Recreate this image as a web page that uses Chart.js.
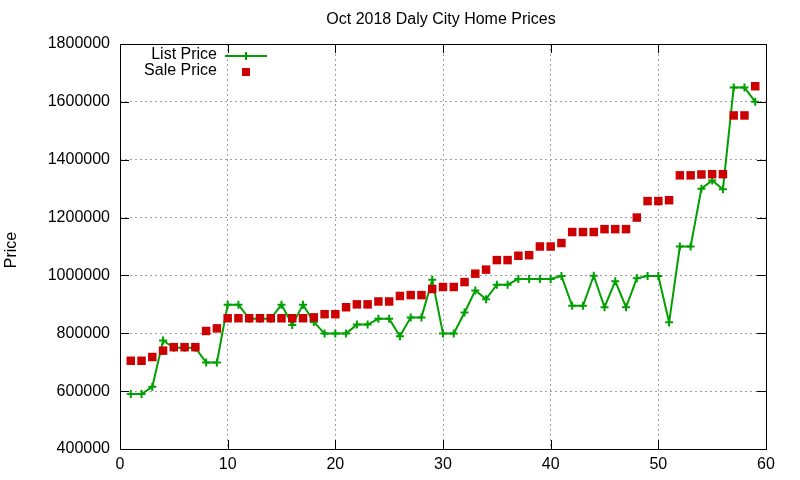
<!DOCTYPE html>
<html>
<head>
<meta charset="utf-8">
<script src="https://cdn.jsdelivr.net/npm/chart.js@4/dist/chart.umd.min.js"></script>
<style>
  html, body { margin: 0; padding: 0; background: #fff; }
  #wrap { width: 800px; height: 480px; }
</style>
</head>
<body>
<div id="wrap"><canvas id="chart" width="800" height="480"></canvas></div>
<script>
// data (home index 1..59, prices in USD)
const homeIndex = [1,2,3,4,5,6,7,8,9,10,11,12,13,14,15,16,17,18,19,20,
  21,22,23,24,25,26,27,28,29,30,31,32,33,34,35,36,37,38,39,40,
  41,42,43,44,45,46,47,48,49,50,51,52,53,54,55,56,57,58,59];

const listPrice = [590000,590000,615000,775000,750000,750000,750000,699000,699000,899000,
  899000,850000,850000,850000,899000,829000,899000,839000,799000,799000,
  799000,830000,830000,850000,850000,790000,855000,855000,985000,799000,
  799000,872000,948000,918000,968000,968000,988000,988000,988000,988000,
  998000,895000,895000,999000,890000,980000,890000,990000,998000,998000,
  838000,1100000,1100000,1300000,1328000,1298000,1650000,1650000,1600000];

const salePrice = [705000,705000,718000,740000,752000,752000,752000,808000,817000,852000,
  852000,852000,852000,852000,852000,852000,852000,855000,866000,866000,
  890000,900000,900000,910000,910000,929000,932000,932000,953000,960000,
  960000,977000,1006000,1020000,1053000,1053000,1068000,1070000,1100000,1100000,
  1112000,1150000,1150000,1150000,1160000,1160000,1160000,1200000,1257000,1257000,
  1260000,1346000,1346000,1349000,1350000,1350000,1553000,1553000,1654000];

const xTicks = [0, 10, 20, 30, 40, 50, 60];
const yTicks = [400000, 600000, 800000, 1000000, 1200000, 1400000, 1600000, 1800000];

const GREEN = '#00a000';
const RED = '#cc0000';
const FONT = '"Liberation Sans", Arial, sans-serif';

// gnuplot-ish frame: box border, inward ticks, title, y label, key
const gnuFrame = {
  id: 'gnuFrame',
  afterDraw(chart) {
    const ctx = chart.ctx;
    const a = chart.chartArea;
    const xs = chart.scales.x, ys = chart.scales.y;
    ctx.save();
    ctx.strokeStyle = '#000';
    ctx.lineWidth = 1;
    ctx.strokeRect(a.left + 0.5, a.top + 0.5, a.right - a.left, a.bottom - a.top);
    ctx.beginPath();
    xTicks.forEach(v => {
      const px = Math.round(xs.getPixelForValue(v)) + 0.5;
      ctx.moveTo(px, a.bottom); ctx.lineTo(px, a.bottom - 9);
      ctx.moveTo(px, a.top); ctx.lineTo(px, a.top + 9);
    });
    yTicks.forEach(v => {
      const py = Math.round(ys.getPixelForValue(v)) + 0.5;
      ctx.moveTo(a.left, py); ctx.lineTo(a.left + 9, py);
      ctx.moveTo(a.right, py); ctx.lineTo(a.right - 9, py);
    });
    ctx.stroke();

    ctx.fillStyle = '#000';
    ctx.font = '16px ' + FONT;
    ctx.textAlign = 'center';
    ctx.textBaseline = 'middle';
    ctx.fillText('Oct 2018 Daly City Home Prices', 441, 20);

    ctx.save();
    ctx.translate(12, 250);
    ctx.rotate(-Math.PI / 2);
    ctx.fillText('Price', 0, 0);
    ctx.restore();

    // key
    ctx.textAlign = 'right';
    ctx.fillText('List Price', 217, 55);
    ctx.fillText('Sale Price', 217, 71);
    ctx.strokeStyle = GREEN;
    ctx.lineWidth = 2;
    ctx.beginPath();
    ctx.moveTo(225, 56); ctx.lineTo(267, 56);
    ctx.moveTo(246, 52); ctx.lineTo(246, 60);
    ctx.stroke();
    ctx.fillStyle = RED;
    ctx.fillRect(242, 68, 8, 8);
    ctx.restore();
  }
};

new Chart(document.getElementById('chart').getContext('2d'), {
  type: 'line',
  data: {
    datasets: [
      {
        label: 'List Price',
        data: homeIndex.map((x, i) => ({ x, y: listPrice[i] })),
        borderColor: GREEN,
        backgroundColor: GREEN,
        borderWidth: 2,
        tension: 0,
        fill: false,
        pointStyle: 'cross',
        pointRadius: 4,
        pointBorderWidth: 2,
        order: 1
      },
      {
        label: 'Sale Price',
        data: homeIndex.map((x, i) => ({ x, y: salePrice[i] })),
        borderColor: RED,
        backgroundColor: RED,
        showLine: false,
        pointStyle: 'rect',
        pointRadius: 6,
        pointBorderWidth: 0,
        order: 0
      }
    ]
  },
  options: {
    responsive: false,
    animation: false,
    layout: { padding: { left: 0, right: 34, top: 44, bottom: 0 } },
    plugins: {
      legend: { display: false },
      title: { display: false },
      tooltip: { enabled: false }
    },
    scales: {
      x: {
        type: 'linear',
        min: 0, max: 60,
        afterBuildTicks: s => { s.ticks = xTicks.map(v => ({ value: v })); },
        afterFit: s => { s.height = 31; },
        ticks: { color: '#000', font: { size: 16, family: FONT }, padding: 6, maxRotation: 0, callback: v => String(v) },
        grid: {
          drawTicks: false,
          color: c => (c.tick && (c.tick.value === 0 || c.tick.value === 60)) ? 'rgba(0,0,0,0)' : '#a0a0a0',
          lineWidth: 1
        },
        border: { display: false, dash: [2, 3] }
      },
      y: {
        min: 400000, max: 1800000,
        afterBuildTicks: s => { s.ticks = yTicks.map(v => ({ value: v })); },
        afterFit: s => { s.width = 120; },
        ticks: { color: '#000', font: { size: 16, family: FONT }, padding: 10, callback: v => String(v) },
        grid: {
          drawTicks: false,
          color: c => (c.tick && (c.tick.value === 400000 || c.tick.value === 1800000)) ? 'rgba(0,0,0,0)' : '#a0a0a0',
          lineWidth: 1
        },
        border: { display: false, dash: [2, 3] }
      }
    }
  },
  plugins: [gnuFrame]
});
</script>
</body>
</html>
